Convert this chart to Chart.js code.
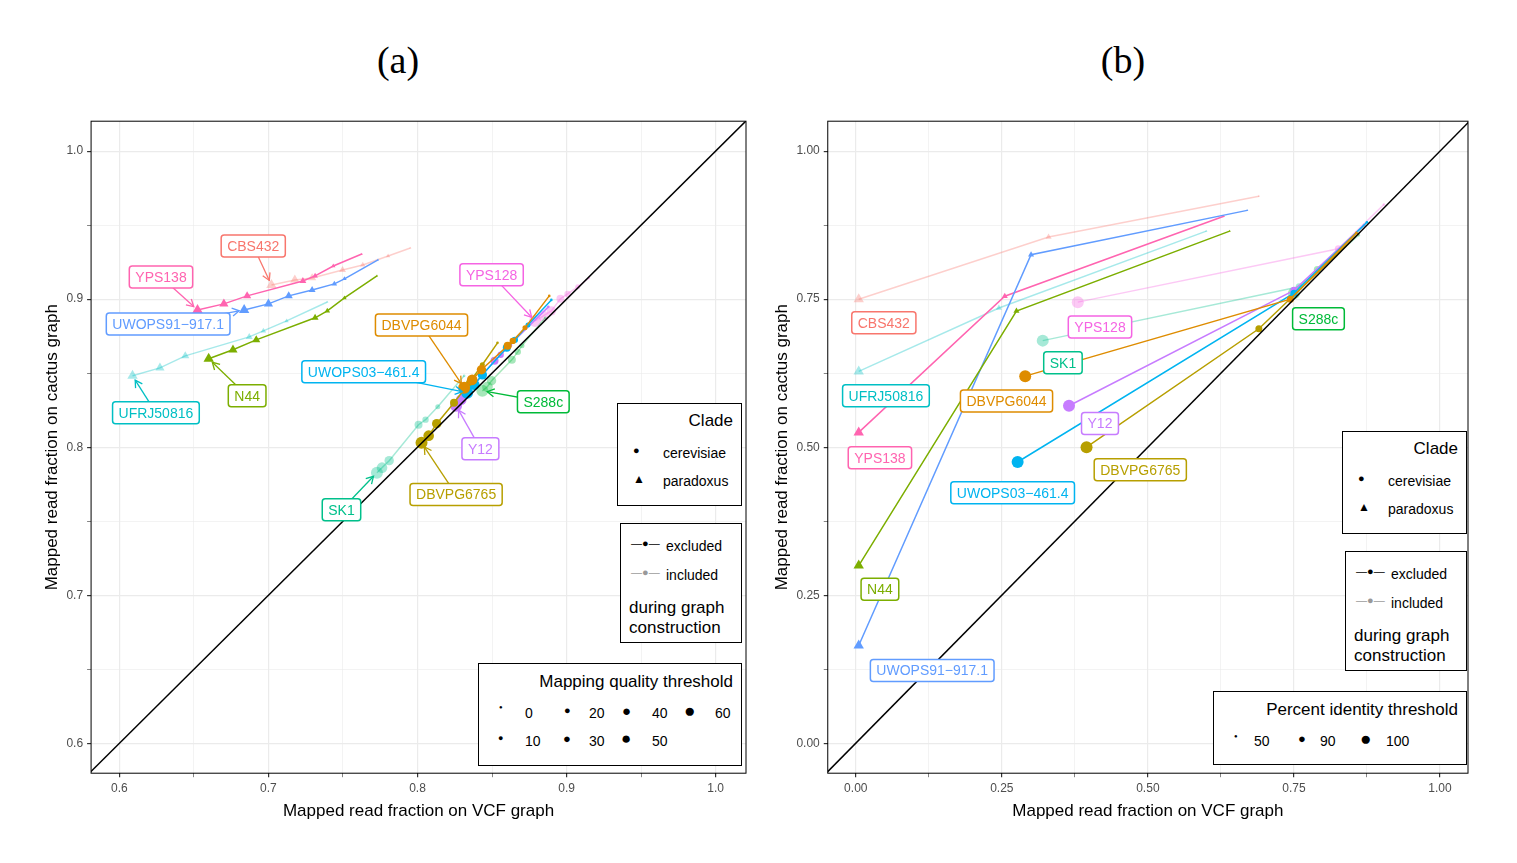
<!DOCTYPE html>
<html><head><meta charset="utf-8">
<script src="https://cdn.jsdelivr.net/npm/chart.js@4"></script>
<style>
body{margin:0;background:#fff;width:1517px;height:863px;position:relative;overflow:hidden;font-family:"Liberation Sans",Arial,sans-serif}
.cv{position:absolute}
.ttl{position:absolute;font-family:"Liberation Serif","DejaVu Serif",serif;font-size:38px;transform:translateX(-50%)}
.lg{position:absolute;border:1px solid #000;background:#fff;font-size:14px;color:#000}
.lg .t{position:absolute;font-size:17px}
.lg span{position:absolute;white-space:nowrap}
</style></head><body>
<div class="ttl" style="left:398px;top:38px">(a)</div>
<div class="ttl" style="left:1123px;top:38px">(b)</div>
<canvas id="ca" class="cv" style="left:40px;top:110px"></canvas>
<canvas id="cb" class="cv" style="left:770px;top:110px"></canvas>

<div class="lg" style="left:617px;top:403px;width:123px;height:101px">
 <span class="t" style="right:8px;top:7px">Clade</span>
 <span style="left:15px;top:40px;font-size:11px">●</span><span style="left:45px;top:41px">cerevisiae</span>
 <span style="left:15px;top:68px;font-size:12px">▲</span><span style="left:45px;top:69px">paradoxus</span>
</div>
<div class="lg" style="left:620px;top:523px;width:120px;height:118px">
 <span style="left:10px;top:13px;font-size:11px">—●—</span><span style="left:45px;top:14px">excluded</span>
 <span style="left:10px;top:42px;font-size:11px;color:#999">—●—</span><span style="left:45px;top:43px">included</span>
 <span style="left:8px;top:74px;font-size:17px;line-height:20px;white-space:normal">during graph construction</span>
</div>
<div class="lg" style="left:478px;top:663px;width:262px;height:101px">
 <span class="t" style="right:8px;top:8px">Mapping quality threshold</span>
 <span style="left:20px;top:40px;font-size:6px">●</span><span style="left:46px;top:41px">0</span>
 <span style="left:85px;top:40px;font-size:11px">●</span><span style="left:110px;top:41px">20</span>
 <span style="left:143px;top:38px;font-size:15px">●</span><span style="left:173px;top:41px">40</span>
 <span style="left:205px;top:36px;font-size:19px">●</span><span style="left:236px;top:41px">60</span>
 <span style="left:19px;top:69px;font-size:9px">●</span><span style="left:46px;top:69px">10</span>
 <span style="left:84px;top:67px;font-size:13px">●</span><span style="left:110px;top:69px">30</span>
 <span style="left:142px;top:65px;font-size:17px">●</span><span style="left:173px;top:69px">50</span>
</div>

<div class="lg" style="left:1342px;top:431px;width:123px;height:101px">
 <span class="t" style="right:8px;top:7px">Clade</span>
 <span style="left:15px;top:40px;font-size:11px">●</span><span style="left:45px;top:41px">cerevisiae</span>
 <span style="left:15px;top:68px;font-size:12px">▲</span><span style="left:45px;top:69px">paradoxus</span>
</div>
<div class="lg" style="left:1345px;top:551px;width:120px;height:118px">
 <span style="left:10px;top:13px;font-size:11px">—●—</span><span style="left:45px;top:14px">excluded</span>
 <span style="left:10px;top:42px;font-size:11px;color:#999">—●—</span><span style="left:45px;top:43px">included</span>
 <span style="left:8px;top:74px;font-size:17px;line-height:20px;white-space:normal">during graph construction</span>
</div>
<div class="lg" style="left:1213px;top:691px;width:252px;height:72px">
 <span class="t" style="right:8px;top:8px">Percent identity threshold</span>
 <span style="left:20px;top:41px;font-size:6px">●</span><span style="left:40px;top:41px">50</span>
 <span style="left:84px;top:39px;font-size:13px">●</span><span style="left:106px;top:41px">90</span>
 <span style="left:146px;top:36px;font-size:19px">●</span><span style="left:172px;top:41px">100</span>
</div>

<script>
// ---------- Panel (a): mapping quality thresholds 60,50,40,30,20,10,0 ----------
const mqThresholds = [60,50,40,30,20,10,0];
const strains = ["CBS432","DBVPG6044","DBVPG6765","N44","S288c","SK1","UFRJ50816","UWOPS03-461.4","UWOPS91-917.1","Y12","YPS128","YPS138"];
const colors  = ["#F8766D","#DE8C00","#B79F00","#7CAE00","#00BA38","#00C08B","#00BFC4","#00B4F0","#619CFF","#C77CFF","#F564E3","#FF64B0"];
const clade   = ["p","c","c","p","c","c","p","c","p","c","c","p"];
const included= [true,false,false,false,true,true,true,false,false,false,true,false];

const aX_CBS432 = [0.702,0.7177,0.7293,0.7497,0.7633,0.7803,0.7952];
const aY_CBS432 = [0.9096,0.913,0.9143,0.9197,0.9231,0.9292,0.9346];
const aX_DBVPG6044 = [0.8313,0.8367,0.8429,0.8605,0.8639,0.8721,0.8884];
const aY_DBVPG6044 = [0.8401,0.8455,0.8523,0.8685,0.8718,0.8806,0.9022];
const aX_DBVPG6765 = [0.8027,0.8075,0.8129,0.8245,0.8347,0.8435,0.8537];
const aY_DBVPG6765 = [0.803,0.8078,0.8159,0.83,0.8435,0.8557,0.8705];
const aX_N44 = [0.6599,0.6762,0.6918,0.7313,0.7395,0.751,0.7728];
const aY_N44 = [0.8597,0.8658,0.8725,0.8874,0.8921,0.9008,0.9157];
const aX_S288c = [0.8435,0.8469,0.8497,0.8633,0.8673,0.8701,0.8857];
const aY_S288c = [0.8381,0.8408,0.8449,0.859,0.8644,0.8685,0.8874];
const aX_SK1 = [0.7728,0.7762,0.781,0.8007,0.8054,0.8136,0.8313];
const aY_SK1 = [0.7828,0.7862,0.7909,0.8152,0.8186,0.8273,0.8482];
const aX_UFRJ50816 = [0.6088,0.6272,0.6442,0.6871,0.6966,0.7122,0.7395];
const aY_UFRJ50816 = [0.8482,0.8536,0.8617,0.8745,0.8786,0.8853,0.8981];
const aX_UWOPS03 = [0.8333,0.8381,0.8435,0.8599,0.8653,0.8741,0.8898];
const aY_UWOPS03 = [0.8368,0.8422,0.8489,0.8671,0.8725,0.8826,0.8995];
const aX_UWOPS91 = [0.6837,0.7,0.7136,0.7293,0.7442,0.751,0.7735];
const aY_UWOPS91 = [0.8927,0.8968,0.9022,0.9062,0.9103,0.9137,0.9265];
const aX_Y12 = [0.8259,0.8293,0.832,0.8517,0.8558,0.8619,0.8878];
const aY_Y12 = [0.828,0.832,0.8354,0.8584,0.8624,0.8691,0.8948];
const aX_YPS128 = [0.8789,0.8844,0.8898,0.8959,0.9007,0.9075,0.915];
const aY_YPS128 = [0.8853,0.8887,0.8921,0.9002,0.9035,0.9083,0.9143];
const aX_YPS138 = [0.6524,0.6701,0.6857,0.7231,0.7313,0.7435,0.7626];
const aY_YPS138 = [0.8927,0.8968,0.9022,0.9123,0.9157,0.9224,0.9305];

// ---------- Panel (b): percent identity thresholds 100,90,50 ----------
const piThresholds = [100,90,50];
const bX_CBS432 = [0.005,0.33,0.69];   const bY_CBS432 = [0.75,0.855,0.924];
const bX_DBVPG6044 = [0.29,0.744,0.857]; const bY_DBVPG6044 = [0.62,0.75,0.862];
const bX_DBVPG6765 = [0.395,0.69,0.86]; const bY_DBVPG6765 = [0.50,0.70,0.86];
const bX_N44 = [0.005,0.275,0.64];     const bY_N44 = [0.30,0.73,0.865];
const bX_S288c = [0.75,0.79,0.87];     const bY_S288c = [0.76,0.80,0.875];
const bX_SK1 = [0.32,0.759,0.861];     const bY_SK1 = [0.68,0.771,0.858];
const bX_UFRJ50816 = [0.005,0.245,0.60]; const bY_UFRJ50816 = [0.628,0.735,0.865];
const bX_UWOPS03 = [0.277,0.75,0.875]; const bY_UWOPS03 = [0.475,0.76,0.88];
const bX_UWOPS91 = [0.005,0.30,0.67];  const bY_UWOPS91 = [0.165,0.825,0.90];
const bX_Y12 = [0.365,0.75,0.87];      const bY_Y12 = [0.57,0.765,0.875];
const bX_YPS128 = [0.38,0.826,0.904];  const bY_YPS128 = [0.745,0.835,0.91];
const bX_YPS138 = [0.005,0.255,0.63];  const bY_YPS138 = [0.525,0.755,0.89];

const aXs=[aX_CBS432,aX_DBVPG6044,aX_DBVPG6765,aX_N44,aX_S288c,aX_SK1,aX_UFRJ50816,aX_UWOPS03,aX_UWOPS91,aX_Y12,aX_YPS128,aX_YPS138];
const aYs=[aY_CBS432,aY_DBVPG6044,aY_DBVPG6765,aY_N44,aY_S288c,aY_SK1,aY_UFRJ50816,aY_UWOPS03,aY_UWOPS91,aY_Y12,aY_YPS128,aY_YPS138];
const bXs=[bX_CBS432,bX_DBVPG6044,bX_DBVPG6765,bX_N44,bX_S288c,bX_SK1,bX_UFRJ50816,bX_UWOPS03,bX_UWOPS91,bX_Y12,bX_YPS128,bX_YPS138];
const bYs=[bY_CBS432,bY_DBVPG6044,bY_DBVPG6765,bY_N44,bY_S288c,bY_SK1,bY_UFRJ50816,bY_UWOPS03,bY_UWOPS91,bY_Y12,bY_YPS128,bY_YPS138];

// label anchor positions (data coords) and targets (index of point)
const aLabels=[["CBS432",0.6898,0.9359],["DBVPG6044",0.8027,0.8826],["DBVPG6765",0.8259,0.768],["N44",0.6857,0.8347],["S288c",0.8844,0.8307],["SK1",0.749,0.7578],["UFRJ50816",0.6245,0.8233],["UWOPS03−461.4",0.7639,0.8509],["UWOPS91−917.1",0.6327,0.8833],["Y12",0.8422,0.799],["YPS128",0.8497,0.9164],["YPS138",0.6279,0.915]];
const bLabels=[["CBS432",0.048,0.710],["DBVPG6044",0.258,0.578],["DBVPG6765",0.487,0.462],["N44",0.0413,0.26],["S288c",0.792,0.717],["SK1",0.3546,0.6425],["UFRJ50816",0.0516,0.587],["UWOPS03−461.4",0.2685,0.423],["UWOPS91−917.1",0.1308,0.123],["Y12",0.418,0.54],["YPS128",0.418,0.703],["YPS138",0.0413,0.482]];

function hexA(h,a){const n=parseInt(h.slice(1),16);return `rgba(${n>>16},${(n>>8)&255},${n&255},${a})`;}

function buildDatasets(Xs,Ys,radii,diag){
  const ds=[{data:diag.map(v=>({x:v,y:v})),showLine:true,borderColor:"#000",borderWidth:1.5,pointRadius:0,order:0}];
  const idx=strains.map((s,i)=>i).sort((a,b)=>(included[b]?1:0)-(included[a]?1:0));
  idx.forEach(i=>{
    const a=included[i]?0.35:1;
    const c=hexA(colors[i],a);
    ds.push({data:Xs[i].map((x,k)=>({x,y:Ys[i][k]})),showLine:true,borderColor:c,backgroundColor:c,
      borderWidth:1.5,pointRadius:radii,pointHoverRadius:radii,pointBorderWidth:0,
      pointStyle:clade[i]==="p"?"triangle":"circle",order:included[i]?2:1});
  });
  return ds;
}

const labelPlugin={id:"strainLabels",afterDatasetsDraw(chart,args,opts){
  const {ctx,scales:{x,y}}=chart;
  ctx.save();ctx.font='14px "Liberation Sans",Arial,sans-serif';
  opts.labels.forEach((L,i)=>{
    const cx=x.getPixelForValue(L[1]),cy=y.getPixelForValue(L[2]);
    const col=colors[i];
    if(opts.arrows){
      const tx=x.getPixelForValue(opts.Xs[i][0]),ty=y.getPixelForValue(opts.Ys[i][0]);
      const dx=tx-cx,dy=ty-cy,d=Math.hypot(dx,dy),ux=dx/d,uy=dy/d;
      const ex=tx-ux*5,ey=ty-uy*5;
      ctx.strokeStyle=col;ctx.lineWidth=1.3;ctx.beginPath();ctx.moveTo(cx,cy);ctx.lineTo(ex,ey);ctx.stroke();
      ctx.beginPath();ctx.moveTo(ex-ux*7-uy*4,ey-uy*7+ux*4);ctx.lineTo(ex,ey);ctx.lineTo(ex-ux*7+uy*4,ey-uy*7-ux*4);ctx.stroke();
    }
    const w=ctx.measureText(L[0]).width+12,h=22;
    ctx.fillStyle="#fff";ctx.strokeStyle=col;ctx.lineWidth=1.5;
    ctx.beginPath();ctx.roundRect(cx-w/2,cy-h/2,w,h,3);ctx.fill();ctx.stroke();
    ctx.fillStyle=col;ctx.textAlign="center";ctx.textBaseline="middle";ctx.fillText(L[0],cx,cy+1);
  });
  ctx.restore();
}};
const borderPlugin={id:"frame",afterDraw(chart){const {ctx,chartArea:a}=chart;ctx.save();ctx.strokeStyle="#000";ctx.lineWidth=1;ctx.strokeRect(a.left,a.top,a.right-a.left,a.bottom-a.top);ctx.restore();}};
Chart.register(labelPlugin,borderPlugin);

function axis(min,max,step,major,fmt,title){
  return {type:"linear",min,max,afterBuildTicks:ax=>{const t=[];const s=Math.ceil(min/step);for(let k=s;k*step<=max+1e-9;k++)t.push({value:+(k*step).toFixed(4)});ax.ticks=t;},
    ticks:{color:"#4D4D4D",font:{size:12,family:"Liberation Sans"},autoSkip:false,maxRotation:0,padding:4,
      callback:v=>Math.abs(v/major-Math.round(v/major))<1e-6?fmt(v):""},
    grid:{color:"#EBEBEB",lineWidth:c=>{const v=c.tick?c.tick.value:0;return Math.abs(v/major-Math.round(v/major))<1e-6?1.2:0.6;},drawTicks:true,tickLength:4,tickColor:"#333"},
    border:{display:false},
    title:{display:true,text:title,color:"#000",font:{size:17,family:"Liberation Sans"},padding:{top:2,bottom:0}}};
}

function make(id,w,h,Xs,Ys,radii,xr,yr,step,major,fmt,labels,arrows,diag){
  const cv=document.getElementById(id);cv.width=w;cv.height=h;cv.style.width=w+"px";cv.style.height=h+"px";
  new Chart(cv,{type:"scatter",data:{datasets:buildDatasets(Xs,Ys,radii,diag)},
    options:{responsive:false,animation:false,devicePixelRatio:1,layout:{padding:{top:8,right:3}},
      plugins:{legend:{display:false},tooltip:{enabled:false},strainLabels:{labels,arrows,Xs,Ys}},
      scales:{x:axis(xr[0],xr[1],step,major,fmt,"Mapped read fraction on VCF graph"),
              y:axis(yr[0],yr[1],step,major,fmt,"Mapped read fraction on cactus graph")}}});
}
make("ca",712,712,aXs,aYs,[6,5.3,4.7,4,3.2,2.5,1.3],[0.581,1.0204],[0.5798,1.0202],0.05,0.1,v=>v.toFixed(1),aLabels,true,[0.55,1.05]);
make("cb",704,712,bXs,bYs,[6,3.5,1.3],[-0.048,1.048],[-0.0506,1.0506],0.125,0.25,v=>v.toFixed(2),bLabels,false,[-0.1,1.1]);
</script></body></html>
